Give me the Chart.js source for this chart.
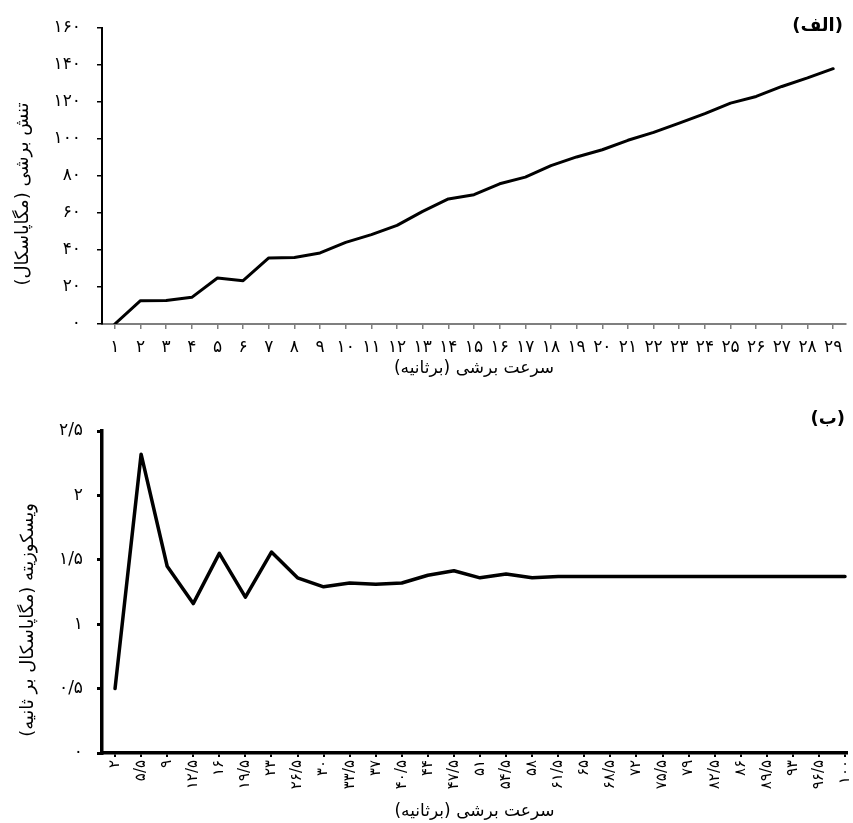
<!DOCTYPE html>
<html>
<head>
<meta charset="utf-8">
<script src="https://cdn.jsdelivr.net/npm/chart.js@4.4.0/dist/chart.umd.min.js"></script>
<style>
    body { margin: 0; background: #fff; }
    canvas { position: absolute; left: 0; }
    #stress { top: 0; }
    #visc { top: 395px; }
</style>
</head>
<body>
<canvas id="stress" width="853" height="395" dir="rtl"></canvas>
<canvas id="visc" width="853" height="428" dir="rtl"></canvas>
<script>
// (الف) shear stress vs shear rate
var stressLabels = ['۱', '۲', '۳', '۴', '۵', '۶', '۷', '۸', '۹', '۱۰', '۱۱', '۱۲', '۱۳', '۱۴', '۱۵',
    '۱۶', '۱۷', '۱۸', '۱۹', '۲۰', '۲۱', '۲۲', '۲۳', '۲۴', '۲۵', '۲۶', '۲۷', '۲۸', '۲۹'];
var stressValues = [0, 12.6, 12.7, 14.4, 24.9, 23.4, 35.7, 36, 38.4, 44.1, 48.3, 53.3, 60.9, 67.6, 69.9,
    75.8, 79.4, 85.6, 90.3, 94.2, 99.3, 103.6, 108.6, 113.7, 119.4, 123, 128.4, 133, 138];
var stressTickLabels = ['۰', '۲۰', '۴۰', '۶۰', '۸۰', '۱۰۰', '۱۲۰', '۱۴۰', '۱۶۰'];

// (ب) viscosity vs shear rate
var rateValues = [2, 5.5, 9, 12.5, 16, 19.5, 23, 26.5, 30, 33.5, 37, 40.5, 44, 47.5, 51,
    54.5, 58, 61.5, 65, 68.5, 72, 75.5, 79, 82.5, 86, 89.5, 93, 96.5, 100];
var rateLabels = ['۲', '۵/۵', '۹', '۱۲/۵', '۱۶', '۱۹/۵', '۲۳', '۲۶/۵', '۳۰', '۳۳/۵', '۳۷', '۴۰/۵', '۴۴', '۴۷/۵', '۵۱',
    '۵۴/۵', '۵۸', '۶۱/۵', '۶۵', '۶۸/۵', '۷۲', '۷۵/۵', '۷۹', '۸۲/۵', '۸۶', '۸۹/۵', '۹۳', '۹۶/۵', '۱۰۰'];
var viscValues = [0.5, 2.32, 1.45, 1.16, 1.55, 1.21, 1.56, 1.36, 1.29, 1.32, 1.31, 1.32, 1.38, 1.415, 1.36,
    1.39, 1.36, 1.37, 1.37, 1.37, 1.37, 1.37, 1.37, 1.37, 1.37, 1.37, 1.37, 1.37, 1.37];
var viscTickLabels = ['۰', '۰/۵', '۱', '۱/۵', '۲', '۲/۵'];

var xTitle = 'سرعت برشی (برثانیه)';

Chart.defaults.font.family = "'DejaVu Sans'";
Chart.defaults.color = '#000';
Chart.defaults.animation = false;

// panel letter in the top right corner + y title (sits a bit below centre like in excel)
var panelText = {
    id: 'panelText',
    afterDraw: function (chart, args, opts) {
        var ctx = chart.ctx;
        var a = chart.chartArea;
        ctx.save();
        ctx.fillStyle = '#000';
        ctx.textBaseline = 'middle';
        ctx.font = 'bold 18px "DejaVu Sans"';
        ctx.textAlign = 'right';
        ctx.fillText(opts.text, a.right - opts.dx, a.top + opts.dy);

        ctx.font = '18px "DejaVu Sans"';
        ctx.textAlign = 'center';
        ctx.translate(opts.titleX, (a.top + a.bottom) / 2 + opts.titleDy);
        ctx.rotate(-Math.PI / 2);
        ctx.fillText(opts.yTitle, 0, 0);
        ctx.restore();
    }
};

new Chart(document.getElementById('stress'), {
    type: 'line',
    data: {
        labels: stressLabels,
        datasets: [{
            data: stressValues,
            borderColor: '#000',
            borderWidth: 3,
            pointRadius: 0,
            tension: 0,
            borderJoinStyle: 'round',
            borderCapStyle: 'round'
        }]
    },
    plugins: [panelText],
    options: {
        responsive: false,
        layout: { padding: { left: 0, right: 7, top: 28, bottom: 0 } },
        plugins: {
            legend: { display: false },
            tooltip: { enabled: false },
            panelText: { text: '(الف)', dx: 3, dy: -2, yTitle: 'تنش برشی (مگاپاسکال)', titleX: 23, titleDy: 18 }
        },
        scales: {
            x: {
                offset: true,
                afterFit: function (s) { s.height = 71; s.paddingLeft = 0; s.paddingRight = 0; },
                border: { color: '#7f7f7f', width: 2 },
                grid: { drawOnChartArea: false, color: '#7f7f7f', lineWidth: 1.5, tickLength: 5 },
                ticks: { autoSkip: false, maxRotation: 0, padding: 8, font: { size: 17 } },
                title: { display: true, text: xTitle, font: { size: 17 }, padding: { top: 0, bottom: 16 } }
            },
            y: {
                min: 0,
                max: 160,
                afterFit: function (s) { s.width = 102; },
                border: { color: '#000', width: 2 },
                grid: { drawOnChartArea: false, color: '#000', lineWidth: 1.5, tickLength: 5 },
                ticks: {
                    stepSize: 20,
                    padding: 16,
                    font: { size: 17 },
                    callback: function (v) { return stressTickLabels[Math.round(v / 20)]; }
                }
            }
        }
    }
});

new Chart(document.getElementById('visc'), {
    type: 'line',
    data: {
        datasets: [{
            data: rateValues.map(function (r, i) { return { x: r, y: viscValues[i] }; }),
            borderColor: '#000',
            borderWidth: 3.5,
            pointRadius: 0,
            tension: 0,
            borderJoinStyle: 'round',
            borderCapStyle: 'round'
        }]
    },
    plugins: [panelText],
    options: {
        responsive: false,
        layout: { padding: { left: 0, right: 6, top: 36, bottom: 0 } },
        plugins: {
            legend: { display: false },
            tooltip: { enabled: false },
            panelText: { text: '(ب)', dx: 2, dy: -12, yTitle: 'ویسکوزیته (مگاپاسکال بر ثانیه)', titleX: 28, titleDy: 28 }
        },
        scales: {
            x: {
                type: 'linear',
                min: 0.25,
                max: 100.27,
                afterFit: function (s) { s.height = 70; s.paddingLeft = 0; s.paddingRight = 0; },
                afterBuildTicks: function (s) {
                    s.ticks = rateValues.map(function (v) { return { value: v }; });
                },
                border: { color: '#000', width: 3.5 },
                grid: { drawOnChartArea: false, color: '#000', lineWidth: 2, tickLength: 4 },
                ticks: {
                    autoSkip: false,
                    minRotation: 90,
                    maxRotation: 90,
                    padding: 3,
                    font: { size: 15 },
                    callback: function (v, i) { return rateLabels[i]; }
                },
                title: { display: true, text: xTitle, font: { size: 17 }, padding: { top: 0, bottom: 1 } }
            },
            y: {
                min: 0,
                max: 2.5,
                afterFit: function (s) { s.width = 102; },
                border: { color: '#000', width: 3.5 },
                grid: { drawOnChartArea: false, color: '#000', lineWidth: 3, tickLength: 5 },
                ticks: {
                    stepSize: 0.5,
                    padding: 14,
                    font: { size: 17 },
                    callback: function (v) { return viscTickLabels[Math.round(v / 0.5)]; }
                }
            }
        }
    }
});
</script>
</body>
</html>
